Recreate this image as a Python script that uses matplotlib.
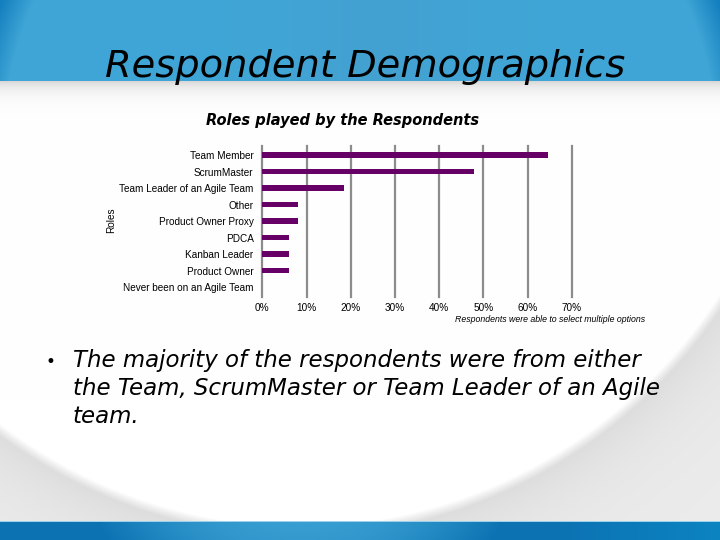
import numpy as np
import matplotlib
matplotlib.use("Agg")
import matplotlib.pyplot as plt

# ---- data ----
roles = ["Team Member", "ScrumMaster", "Team Leader of an Agile Team", "Other",
         "Product Owner Proxy", "PDCA", "Kanban Leader", "Product Owner",
         "Never been on an Agile Team"]
percent = [64.6, 47.8, 18.4, 8.1, 8.1, 6.0, 6.0, 6.0, 0.0]
xticks = [0, 10, 20, 30, 40, 50, 60, 70]
xtick_labels = [f"{t}%" for t in xticks]
slide_title = "Respondent Demographics"
chart_title = "Roles played by the Respondents"
footnote = "Respondents were able to select multiple options"
bullet_lines = ["The majority of the respondents were from either",
                "the Team, ScrumMaster or Team Leader of an Agile",
                "team."]

W, H = 720, 540
fig = plt.figure(figsize=(7.2, 5.4), dpi=100)

# ---- slide background ----
yy, xx = np.mgrid[0:H, 0:W] + 0.5
bg = np.ones((H, W, 3))
# big white dome with soft grey outside
cx, cy, a, b = 300.0, 0.0, 510.0, 530.0
r = np.sqrt(((xx - cx) / a) ** 2 + ((yy - cy) / b) ** 2)
d = (r - 1.0) * 520.0
out = np.clip((d + 4) / 10.0, 0, 1)
grey = 0.86 + 0.065 * (1 - np.exp(-np.clip(d, 0, None) / 40.0))
val = 1.0 * (1 - out) + grey * out
# shade under the top band
val = val * (1 - 0.16 * np.exp(-(yy - 81) / 9.0) * (yy > 81))
bg[:] = val[..., None]
# top band
top = yy < 81
base = np.array([0.25, 0.65, 0.84])
dark = np.array([0.08, 0.50, 0.75])
rc = np.sqrt((xx - 360) ** 2 + (yy - 146) ** 2)
edge = np.clip((rc - 356) / 30.0, 0, 1)
mid = np.exp(-((xx - 380) / 90.0) ** 2) * 0.35
midc = np.array([0.29, 0.60, 0.79])
col = base[None, None, :] * (1 - edge[..., None]) + dark[None, None, :] * edge[..., None]
col = col * (1 - mid[..., None]) + midc[None, None, :] * mid[..., None]
bg[top] = col[top]
# bottom band
bot = yy >= 521
bbase = np.array([0.05, 0.45, 0.70])
blight = np.array([0.22, 0.62, 0.82])
wgt = np.clip(1 - ((xx - 300) / 200.0) ** 2 - ((yy - 521) / 60.0) ** 2, 0, 1)
bcol = bbase[None, None, :] * (1 - wgt[..., None]) + blight[None, None, :] * wgt[..., None]
right = np.clip((xx - 560) / 160.0, 0, 1)[..., None]
bcol = bcol * (1 - right * 0.6) + np.array([0.05, 0.56, 0.80])[None, None, :] * right * 0.6
bg[bot] = bcol[bot]
line = (yy >= 521) & (yy < 522.5)
bg[line] = [0.62, 0.82, 0.92]

bgax = fig.add_axes([0, 0, 1, 1])
bgax.imshow(bg, aspect="auto", extent=[0, W, H, 0], interpolation="bilinear")
bgax.set_xlim(0, W)
bgax.set_ylim(H, 0)
bgax.axis("off")

# ---- chart ----
L, R_, T, B = 262.3, 571.7, 146.0, 297.3
ax = fig.add_axes([L / W, 1 - B / H, (R_ - L) / W, (B - T) / H])
ax.patch.set_alpha(0)
ypos = np.arange(len(roles))
ax.barh(ypos, percent, height=0.345, color="#660066", zorder=3)
ax.set_xlim(0, 70)
ax.set_ylim(8.62, -0.55)
ax.set_xticks(xticks)
ax.set_xticklabels(xtick_labels, fontsize=7.2, family="Liberation Sans")
ax.set_yticks(ypos)
ax.set_yticklabels(roles, fontsize=7.2, family="Liberation Sans")
ax.tick_params(axis="both", length=0)
ax.tick_params(axis="y", pad=6.3)
ax.tick_params(axis="x", pad=4)
for s in ax.spines.values():
    s.set_visible(False)
ax.xaxis.grid(True, color="#8c8c8c", lw=1.6, zorder=1)
ax.yaxis.grid(False)
ax.set_axisbelow(True)
for gl in ax.get_xgridlines():
    gl.set_clip_on(False)

fig.text(110.7 / W, 1 - 220.7 / H, "Roles", rotation=90, ha="center", va="center",
         fontsize=7.2, family="Liberation Sans")
fig.text(342.5 / W, 1 - 120.7 / H, chart_title, ha="center", va="center",
         fontsize=10.5, fontweight="bold", style="italic", family="DejaVu Sans")
fig.text(645 / W, 1 - 322 / H, footnote, ha="right", va="baseline",
         fontsize=6.3, style="italic", family="Liberation Sans")

# ---- slide texts ----
fig.text(105 / W, 1 - 76.7 / H, slide_title, ha="left", va="baseline",
         fontsize=27.6, style="italic", family="DejaVu Sans", color="black")
baselines = [366.7, 395.0, 423.3]
fig.text(50.7 / W, 1 - 366.7 / H, "\u2022", ha="center", va="baseline",
         fontsize=12, family="DejaVu Sans")
for txt, yb in zip(bullet_lines, baselines):
    fig.text(73 / W, 1 - yb / H, txt, ha="left", va="baseline",
             fontsize=16.5, style="italic", family="DejaVu Sans")

fig.savefig("out.png", dpi=100)
